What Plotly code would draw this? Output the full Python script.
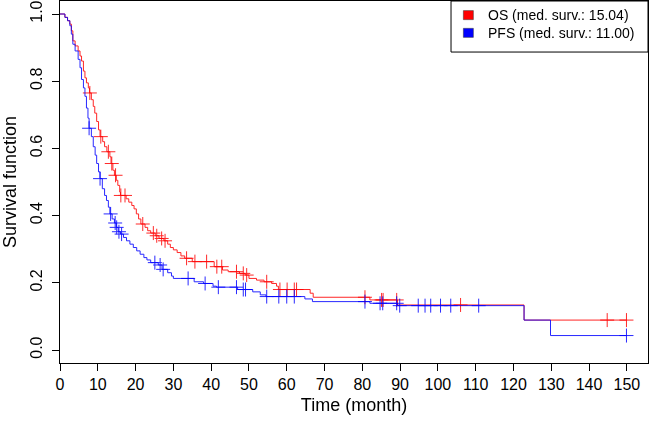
import numpy as np
import plotly.graph_objects as go

# ---- data (Kaplan-Meier step curves) ----
os_time = [0, 1.3, 2.0, 2.6, 3.0, 3.4, 4.0, 4.8, 5.3, 5.7, 6.2, 6.6, 7.0, 7.5, 7.8, 8.3, 8.8, 9.2, 9.7,
           10.2, 10.6, 11.3, 11.8, 12.4, 13.2, 13.5, 14.0, 14.4, 14.9, 15.3, 15.8, 16.0, 17.5, 18.2, 19.0,
           19.6, 20.2, 20.8, 21.4, 22.5, 23.2, 24.0, 25.2, 26.2, 27.5, 28.5, 29.2, 30.0, 31.0, 32.0, 33.0,
           35.0, 40.8, 43.0, 44.5, 47.5, 49.0, 50.0, 52.0, 54.0, 56.0, 57.3, 57.8, 66.2, 67.0, 82.0, 89.3,
           122.8, 150.0]
os_surv = [1.0, 0.99, 0.98, 0.97, 0.95, 0.92, 0.905, 0.89, 0.875, 0.86, 0.83, 0.81, 0.795, 0.78, 0.765,
           0.745, 0.725, 0.705, 0.68, 0.655, 0.635, 0.62, 0.605, 0.59, 0.575, 0.555, 0.535, 0.52, 0.505,
           0.49, 0.47, 0.46, 0.45, 0.44, 0.43, 0.42, 0.405, 0.39, 0.375, 0.365, 0.355, 0.348, 0.34, 0.332,
           0.325, 0.315, 0.305, 0.298, 0.29, 0.28, 0.273, 0.263, 0.248, 0.238, 0.233, 0.228, 0.223, 0.213,
           0.208, 0.203, 0.198, 0.19, 0.18, 0.169, 0.157, 0.149, 0.134, 0.089, 0.089]
os_censor = [7.9, 10.8, 12.8, 13.7, 14.7, 16.1, 17.2, 21.9, 24.7, 25.6, 26.9, 27.8, 33.5, 35.7, 38.8,
             41.5, 42.8, 46.7, 48.5, 49.4, 54.7, 58.2, 60.1, 62.0, 62.6, 80.7, 85.1, 85.5, 89.1, 106.0,
             144.8, 149.9]

pfs_time = [0, 1.3, 2.0, 2.6, 3.0, 3.4, 4.0, 4.8, 5.3, 5.7, 6.2, 6.6, 7.0, 7.4, 7.7, 8.3, 8.8, 9.3, 9.7,
            10.2, 10.6, 11.2, 11.8, 12.3, 12.8, 13.2, 13.8, 14.4, 14.9, 15.4, 16.0, 16.8, 17.6, 18.5, 19.4,
            20.3, 21.2, 22.2, 23.0, 24.0, 26.0, 27.0, 28.5, 29.5, 30.0, 35.5, 38.0, 40.5, 41.4, 47.0, 51.0,
            53.0, 54.5, 64.8, 66.8, 82.0, 89.3, 122.8, 129.8, 150.0]
pfs_surv = [1.0, 0.99, 0.98, 0.965, 0.94, 0.91, 0.89, 0.865, 0.84, 0.805, 0.78, 0.755, 0.72, 0.69, 0.66,
            0.635, 0.605, 0.58, 0.555, 0.53, 0.51, 0.48, 0.46, 0.445, 0.425, 0.405, 0.39, 0.378, 0.365,
            0.352, 0.345, 0.335, 0.325, 0.315, 0.305, 0.295, 0.285, 0.275, 0.268, 0.26, 0.253, 0.24, 0.23,
            0.22, 0.213, 0.203, 0.198, 0.19, 0.187, 0.18, 0.173, 0.164, 0.159, 0.152, 0.144, 0.139, 0.132,
            0.089, 0.043, 0.043]
pfs_censor = [7.7, 10.6, 13.4, 14.6, 15.0, 15.6, 16.3, 25.1, 26.5, 27.3, 33.9, 38.4, 41.9, 46.7, 48.5,
              49.1, 54.7, 57.9, 60.0, 62.0, 80.7, 84.7, 85.4, 89.1, 89.9, 94.8, 96.6, 98.1, 100.7, 103.4,
              110.8, 149.9]

legend_labels = ["OS (med. surv.: 15.04)", "PFS (med. surv.: 11.00)"]
x_ticks = list(range(0, 151, 10))
y_ticks = [0.0, 0.2, 0.4, 0.6, 0.8, 1.0]

RED = "#FF0000"
BLUE = "#0000FF"
FONT = "Arial, Liberation Sans, sans-serif"


def step_value(times, surv, t):
    idx = np.searchsorted(np.asarray(times), t, side="right") - 1
    return float(np.asarray(surv)[idx])


fig = go.Figure()
for times, surv, cens, col in [(os_time, os_surv, os_censor, RED), (pfs_time, pfs_surv, pfs_censor, BLUE)]:
    fig.add_trace(go.Scatter(x=times, y=surv, mode="lines", line=dict(color=col, width=1, shape="hv"),
                             opacity=0.85, showlegend=False, hoverinfo="skip"))
    fig.add_trace(go.Scatter(x=cens, y=[step_value(times, surv, c) for c in cens], mode="markers",
                             marker=dict(symbol="cross-thin", size=10, line=dict(color=col, width=1)),
                             opacity=0.85, showlegend=False, hoverinfo="skip"))

axis_common = dict(showline=True, mirror=True, linecolor="black", linewidth=1, ticks="outside",
                   ticklen=7, tickcolor="black", showgrid=False, zeroline=False, automargin=False,
                   tickfont=dict(family=FONT, size=16, color="black"))

fig.update_layout(
    width=650, height=423,
    margin=dict(l=60, r=2, t=1, b=60),
    paper_bgcolor="white", plot_bgcolor="white",
    font=dict(family=FONT, size=14, color="black"),
    xaxis=dict(range=[0, 155.6], tickvals=x_ticks, **axis_common,
               title=dict(text="Time (month)", font=dict(family=FONT, size=18), standoff=6)),
    yaxis=dict(range=[-0.0387, 1.0387], tickvals=y_ticks, tickformat=".1f", tickangle=-90,
               ticklabelstandoff=4, **axis_common,
               title=dict(text="Survival function", font=dict(family=FONT, size=18), standoff=8)),
)

# legend box (drawn in paper coordinates)
fig.add_shape(type="rect", xref="paper", yref="paper", x0=0.665, x1=1.0, y0=0.859, y1=1.0,
              line=dict(color="black", width=1), fillcolor="white", layer="above")
for yc, col in zip([0.961, 0.912], [RED, BLUE]):
    fig.add_shape(type="rect", xref="paper", yref="paper", x0=0.686, x1=0.703,
                  y0=yc - 0.0125, y1=yc + 0.0125, fillcolor=col, line=dict(color="#333333", width=0.5),
                  layer="above")
fig.add_annotation(xref="paper", yref="paper", x=0.725, y=0.9365, text="<br>".join(legend_labels),
                   showarrow=False, xanchor="left", yanchor="middle", align="left",
                   font=dict(family=FONT, size=14, color="black"))

fig.write_html("out.html", config={"displayModeBar": False},
               post_script="document.body.style.margin='0';document.body.style.overflow='hidden';")
